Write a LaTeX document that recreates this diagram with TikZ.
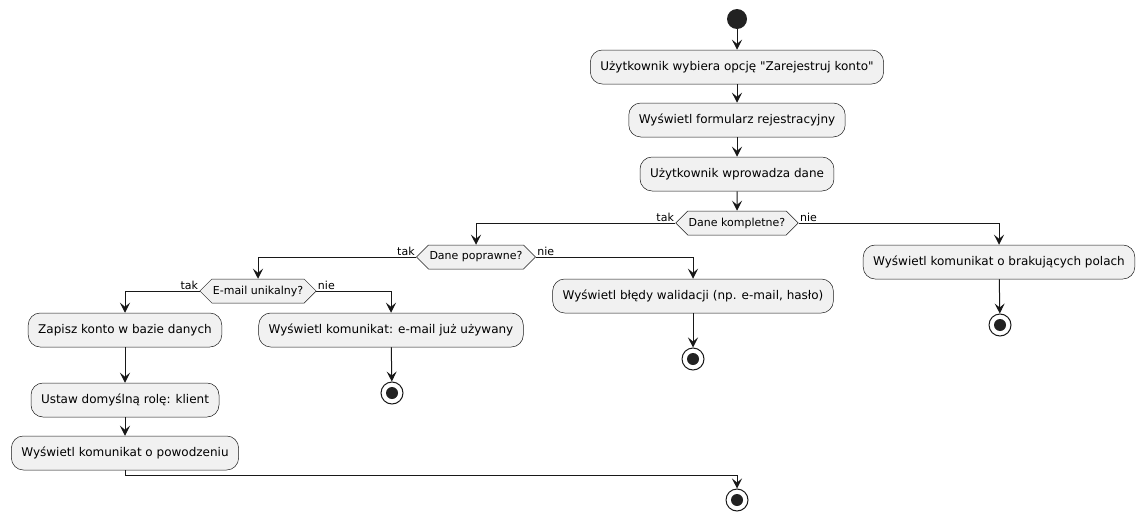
\documentclass[tikz,border=0pt]{standalone}
\usepackage{fontspec}
\setmainfont{DejaVu Sans}
\usetikzlibrary{arrows.meta,shapes.symbols}
\definecolor{actfill}{HTML}{F1F1F1}
\definecolor{actline}{HTML}{181818}
\definecolor{dotfill}{HTML}{222222}
\begin{document}
\begin{tikzpicture}[
    x=1pt, y=-1pt,
    >={Stealth[length=10pt, width=10pt, inset=4pt]},
    box/.style={draw=actline, line width=0.5pt, fill=actfill, rounded corners=12pt, align=center, minimum height=34pt, inner xsep=10pt, font=\fontsize{12}{14}\selectfont},
    choice/.style={signal, signal to=west and east, signal pointer angle=90, draw=actline, line width=0.5pt, fill=actfill, minimum height=24pt, inner xsep=1pt, inner ysep=0pt, font=\fontsize{11}{13}\selectfont},
    startdot/.style={circle, fill=dotfill, minimum size=20pt, inner sep=0pt},
    stopdot/.style={circle, draw=actline, line width=1pt, fill=white, minimum size=22pt, inner sep=0pt, path picture={\fill[dotfill] (path picture bounding box.center) circle (6pt);}},
    arrow/.style={->, draw=actline, line width=1pt},
    lbl/.style={inner sep=1pt, font=\fontsize{11}{13}\selectfont}
  ]
    \useasboundingbox (0,0) rectangle (1145,522);

    \node[startdot] (start) at (737,19) {};
    \node[box] (choose) at (737,67) {Użytkownik wybiera opcję \textquotedbl Zarejestruj konto\textquotedbl};
    \node[box] (form) at (737,120) {Wyświetl formularz rejestracyjny};
    \node[box] (input) at (737,174) {Użytkownik wprowadza dane};
    \node[choice] (complete) at (737,223) {Dane kompletne?};

    \node[choice] (valid) at (476,257) {Dane poprawne?};
    \node[box] (missing) at (999,262) {Wyświetl komunikat o brakujących polach};
    \node[stopdot] (stopmissing) at (1000,325) {};

    \node[choice] (unique) at (258,291) {E-mail unikalny?};
    \node[box] (errors) at (693,296) {Wyświetl błędy walidacji (np. e-mail, hasło)};
    \node[stopdot] (stoperrors) at (693,359) {};

    \node[box] (save) at (125,330) {Zapisz konto w bazie danych};
    \node[box] (role) at (125,400) {Ustaw domyślną rolę: klient};
    \node[box] (success) at (125,453) {Wyświetl komunikat o powodzeniu};
    \node[box] (taken) at (391,330) {Wyświetl komunikat: e-mail już używany};
    \node[stopdot] (stoptaken) at (392,393) {};

    \node[stopdot] (stopend) at (737,500) {};
    \coordinate (merge) at (737,475);

    \draw[arrow] (start) -- (choose);
    \draw[arrow] (choose) -- (form);
    \draw[arrow] (form) -- (input);
    \draw[arrow] (input) -- (complete);

    \draw[arrow] (complete.west) node[lbl, anchor=south east] {tak} -| (valid.north);
    \draw[arrow] (complete.east) node[lbl, anchor=south west] {nie} -| (missing.north);
    \draw[arrow] (missing) -- (stopmissing);

    \draw[arrow] (valid.west) node[lbl, anchor=south east] {tak} -| (unique.north);
    \draw[arrow] (valid.east) node[lbl, anchor=south west] {nie} -| (errors.north);
    \draw[arrow] (errors) -- (stoperrors);

    \draw[arrow] (unique.west) node[lbl, anchor=south east] {tak} -| (save.north);
    \draw[arrow] (unique.east) node[lbl, anchor=south west] {nie} -| (taken.north);
    \draw[arrow] (taken) -- (stoptaken);

    \draw[arrow] (save) -- (role);
    \draw[arrow] (role) -- (success);
    \draw[arrow] (success.south) |- (merge) -- (stopend.north);
  \end{tikzpicture}
\end{document}
